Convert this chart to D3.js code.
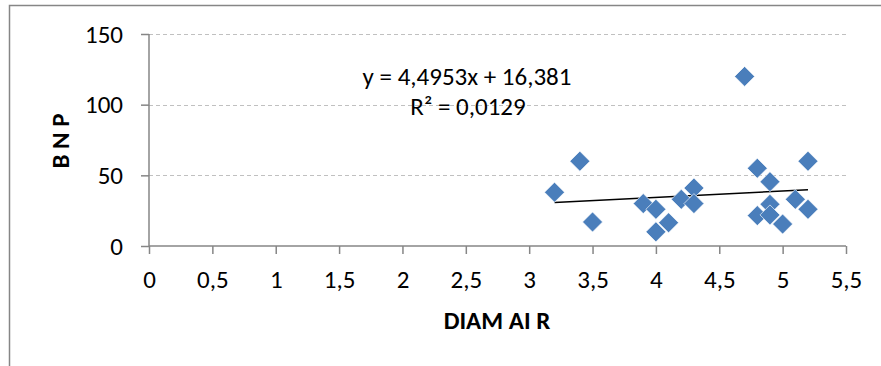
<!DOCTYPE html>
<html>
<head>
<meta charset="utf-8">
<script src="https://cdn.jsdelivr.net/npm/d3@7"></script>
<style>
  body { margin: 0; background: #fff; }
  text { font-family: Calibri, Carlito, "Open Sans", sans-serif; fill: #000; }
</style>
</head>
<body>
<svg id="canvas" width="881" height="366"></svg>
<script>
(function () {
    // values
    var diam = [3.2, 3.4, 3.5, 3.9, 4.0, 4.0, 4.1, 4.2, 4.3, 4.3, 4.7, 4.8, 4.8, 4.9, 4.9, 4.9, 5.0, 5.1, 5.2, 5.2];
    var bnp  = [38, 60, 17, 30, 26, 10, 16.5, 33, 41, 30, 120, 55, 21.5, 45.5, 29.5, 22, 15.5, 33, 60, 26];
    var xTicks = [0, 0.5, 1, 1.5, 2, 2.5, 3, 3.5, 4, 4.5, 5, 5.5];
    var yTicks = [0, 50, 100, 150];
    var slope = 4.4953, intercept = 16.381;
    var eqLabel = "y = 4,4953x + 16,381", r2Label = "R² = 0,0129";

    var data = diam.map(function (d, i) { return { x: d, y: bnp[i] }; });

    var svg = d3.select("#canvas");
    var font = "Calibri, Carlito, 'Open Sans', sans-serif";

    // chart frame (only top and left edges show)
    svg.append("path")
        .attr("d", "M9.5,366 V5.5 H881")
        .attr("fill", "none")
        .attr("stroke", "#868686")
        .attr("stroke-width", 1.5);

    var left = 149, top = 34, width = 697, height = 212;

    var x = d3.scaleLinear().domain([0, 5.5]).range([0, width]);
    var y = d3.scaleLinear().domain([0, 150]).range([height, 0]);

    var chart = svg.append("g").attr("transform", "translate(" + left + "," + top + ")");

    // gridlines
    chart.append("g")
        .selectAll("line")
        .data(yTicks.filter(function (d) { return d > 0; }))
        .join("line")
        .attr("x1", 0).attr("x2", width)
        .attr("y1", function (d) { return Math.round(y(d)) + 0.5; })
        .attr("y2", function (d) { return Math.round(y(d)) + 0.5; })
        .attr("stroke", "#c0c0c0")
        .attr("stroke-dasharray", "4,3");

    var fmt = function (d) { return String(d).replace(".", ","); };

    // y axis
    chart.append("g")
        .call(d3.axisLeft(y).tickValues(yTicks).tickSize(8).tickPadding(18))
        .call(function (g) {
            g.attr("font-size", null).attr("font-family", null);
            g.selectAll("line, path").attr("stroke", "#868686").attr("stroke-width", 1.5);
            g.select(".domain").attr("d", "M0," + height + "V0");
            g.selectAll("text").style("font-size", "25px").style("font-family", font);
        });

    // x axis
    chart.append("g")
        .attr("transform", "translate(0," + height + ")")
        .call(d3.axisBottom(x).tickValues(xTicks).tickFormat(fmt).tickSize(8).tickPadding(16))
        .call(function (g) {
            g.attr("font-size", null).attr("font-family", null);
            g.selectAll("line, path").attr("stroke", "#868686").attr("stroke-width", 1.5);
            g.select(".domain").attr("d", "M0,0H" + width);
            g.selectAll("text").style("font-size", "25px").style("font-family", font);
        });

    // trendline
    var xs = d3.extent(diam);
    chart.append("line")
        .attr("x1", x(xs[0])).attr("y1", y(intercept + slope * xs[0]))
        .attr("x2", x(xs[1])).attr("y2", y(intercept + slope * xs[1]))
        .attr("stroke", "#000")
        .attr("stroke-width", 1.5);

    // diamond markers
    chart.append("g")
        .selectAll("path")
        .data(data)
        .join("path")
        .attr("d", d3.symbol().type(d3.symbolSquare).size(200))
        .attr("transform", function (d) { return "translate(" + x(d.x) + "," + y(d.y) + ") rotate(45)"; })
        .attr("fill", "#4a7ebb")
        .attr("stroke", "#fff")
        .attr("stroke-width", 0.6);

    // equation labels
    svg.append("text")
        .attr("x", 467).attr("y", 85)
        .attr("text-anchor", "middle")
        .style("font-size", "25px")
        .text(eqLabel);
    svg.append("text")
        .attr("x", 468).attr("y", 115)
        .attr("text-anchor", "middle")
        .style("font-size", "25px")
        .text(r2Label);

    // axis titles
    svg.append("text")
        .attr("x", 497).attr("y", 329)
        .attr("text-anchor", "middle")
        .style("font-size", "25px")
        .style("font-weight", "bold")
        .text("DIAM AI R");
    svg.append("text")
        .attr("transform", "translate(69,141) rotate(-90)")
        .attr("text-anchor", "middle")
        .style("font-size", "25px")
        .style("font-weight", "bold")
        .text("B N P");
})();
</script>
</body>
</html>
